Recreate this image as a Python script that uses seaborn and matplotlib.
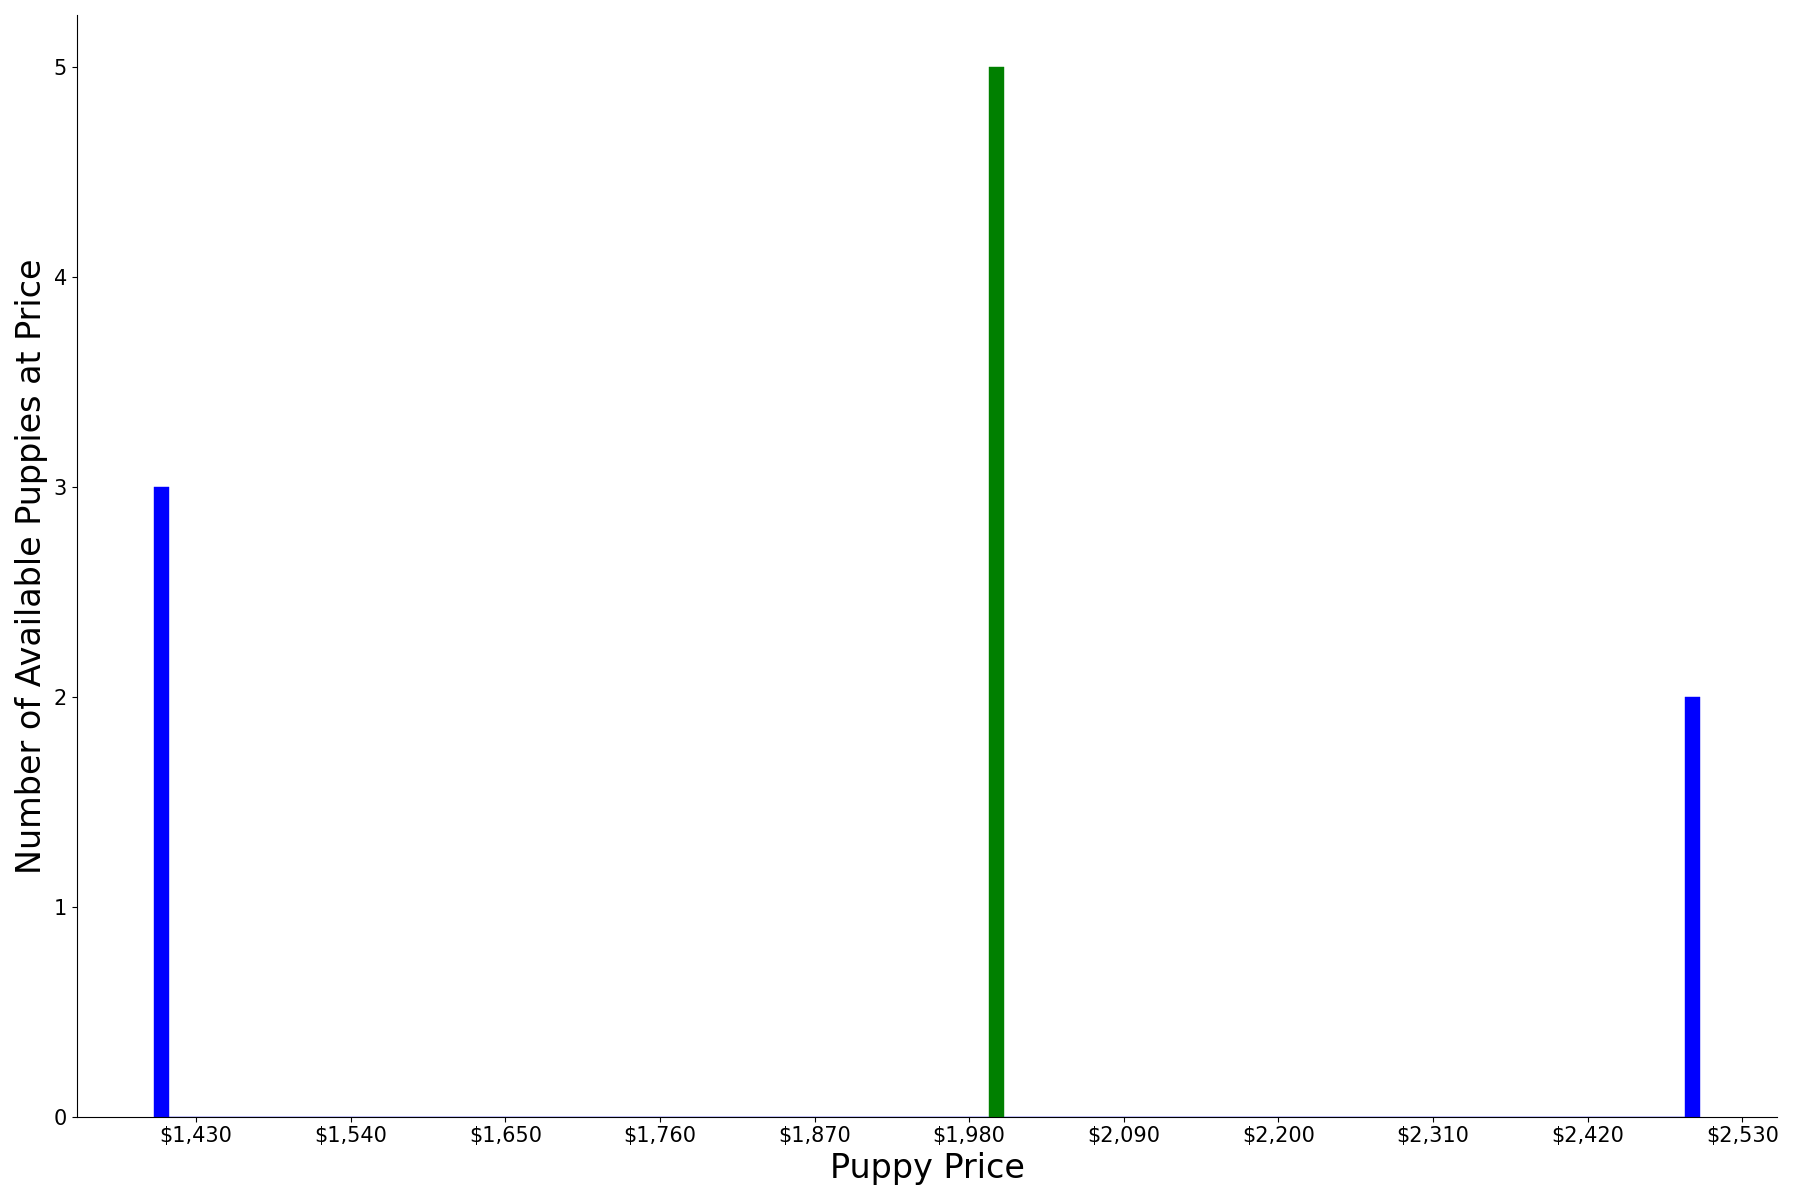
import numpy as np
import pandas as pd
import matplotlib
matplotlib.use("Agg")
import matplotlib.pyplot as plt
import seaborn as sns

# puppy prices (3 near $1,400, 5 near $2,000, 2 near $2,500)
prices = [1400, 1400, 1400, 2000, 2000, 2000, 2000, 2000, 2500, 2500]
tick_values = [1430, 1540, 1650, 1760, 1870, 1980, 2090, 2200, 2310, 2420, 2530]
n_bins = 100

df = pd.DataFrame({'price': prices})

fig, ax = plt.subplots(figsize=(18, 12), dpi=100)
sns.histplot(data=df, x='price', bins=n_bins, color='blue', alpha=1.0,
             edgecolor='blue', linewidth=0.3, ax=ax)

# highlight the most common price bin
heights = [p.get_height() for p in ax.patches]
top = int(np.argmax(heights))
for i, p in enumerate(ax.patches):
    if i == top:
        p.set_facecolor('green')
        p.set_edgecolor('green')

ax.set_xticks(tick_values)
ax.set_xticklabels(['${:,}'.format(v) for v in tick_values], fontsize=15)
ax.tick_params(axis='y', labelsize=15)
ax.set_xlabel('Puppy Price', fontsize=24)
ax.set_ylabel('Number of Available Puppies at Price', fontsize=24)
sns.despine(ax=ax)

plt.tight_layout()
plt.savefig('out.png', dpi=100)
